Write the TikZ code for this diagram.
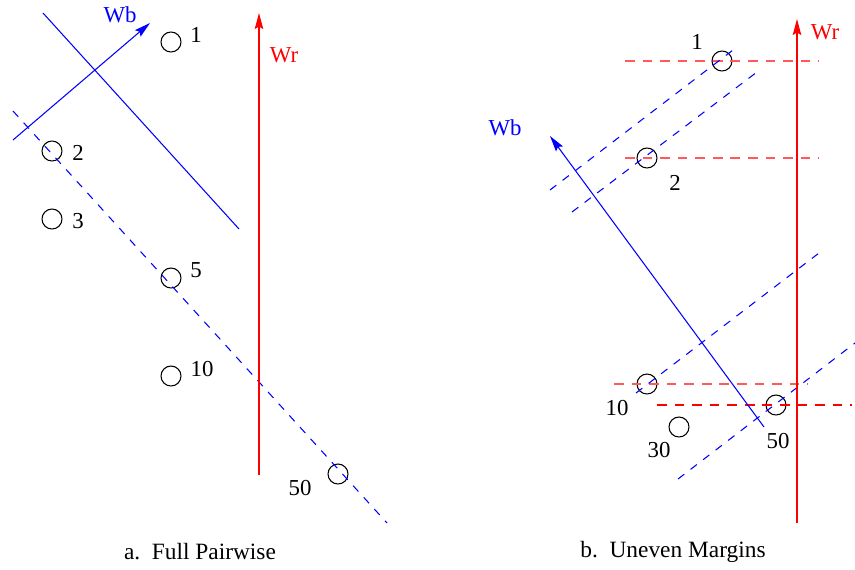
\documentclass[tikz,border=0pt]{standalone}
\usepackage{fontspec}
\setmainfont{Liberation Serif}
\usepackage{tikz}
\usetikzlibrary{arrows.meta}
\tikzstyle{pt}=[circle, draw, minimum size=0.4cm, inner sep=0pt, line width=0.6pt]
\tikzstyle{num}=[font=\fontsize{13}{15}\selectfont, inner sep=0pt]
\tikzstyle{wline}=[blue, line width=0.6pt]
\tikzstyle{bdash}=[blue, line width=0.6pt, dash pattern=on 4.5pt off 4.5pt]
\tikzstyle{rdash}=[red!65, line width=0.8pt, dash pattern=on 5.5pt off 4.5pt]
\tikzstyle{vec}=[line width=0.6pt, -{Stealth[length=0.32cm,width=0.17cm,inset=0.05cm]}]

\begin{document}
\begin{tikzpicture}[x=0.02cm,y=-0.02cm]
\useasboundingbox (0,0) rectangle (855,569);
% a. Full Pairwise
\node[pt] (a1) at (171,42) {};
\node[pt] (a2) at (52,151) {};
\node[pt] (a3) at (52,219) {};
\node[pt] (a5) at (171,278) {};
\node[pt] (a10) at (171,376) {};
\node[pt] (a50) at (338,474) {};
\node[num] (ta1) at (196,35) {1};
\node[num] (ta2) at (78,153) {2};
\node[num] (ta3) at (78,221) {3};
\node[num] (ta5) at (196,270) {5};
\node[num] (ta10) at (202,369) {10};
\node[num] (ta50) at (300,488) {50};
\coordinate (aWb0) at (13,140);
\coordinate (aWb1) at (150,23);
\coordinate (aSep0) at (43,13);
\coordinate (aSep1) at (239,229);
\coordinate (aMar0) at (13,111);
\coordinate (aMar1) at (387,523);
\coordinate (aWr0) at (259,475);
\coordinate (aWr1) at (259,13);
\draw [wline,vec] (aWb0) -- (aWb1);
\draw [wline] (aSep0) -- (aSep1);
\draw [bdash] (aMar0) -- (aMar1);
\draw [red,vec] (aWr0) -- (aWr1);
\node[num,blue] (aWb) at (120,15) {Wb};
\node[num,red] (aWr) at (284,55) {Wr};
\node[num,font=\fontsize{13.3}{15}\selectfont] (capa) at (200,552) {a.\ \ Full Pairwise};
% b. Uneven Margins
\node[pt] (b1) at (722,61) {};
\node[pt] (b2) at (647,158) {};
\node[pt] (b10) at (647,384) {};
\node[pt] (b30) at (679,427) {};
\node[pt] (b50) at (776,405) {};
\node[num] (tb1) at (697,42) {1};
\node[num] (tb2) at (675,183) {2};
\node[num] (tb10) at (617,408) {10};
\node[num] (tb30) at (659,450) {30};
\node[num] (tb50) at (778,441) {50};
\coordinate (bM1a) at (550,190);
\coordinate (bM1b) at (733,50);
\coordinate (bM2a) at (572,212);
\coordinate (bM2b) at (757,72);
\coordinate (bM10a) at (636,393);
\coordinate (bM10b) at (819,253);
\coordinate (bM50a) at (678,479);
\coordinate (bM50b) at (855,343);
\coordinate (bR1a) at (625,61);
\coordinate (bR1b) at (819,61);
\coordinate (bR2a) at (625,158);
\coordinate (bR2b) at (819,158);
\coordinate (bR10a) at (614,384);
\coordinate (bR10b) at (808,384);
\coordinate (bR50a) at (657,405);
\coordinate (bR50b) at (852,405);
\coordinate (bWb0) at (764,427);
\coordinate (bWb1) at (550,136);
\coordinate (bWr0) at (797,523);
\coordinate (bWr1) at (797,19);
\draw [rdash] (bR1a) -- (bR1b);
\draw [rdash] (bR2a) -- (bR2b);
\draw [rdash] (bR10a) -- (bR10b);
\draw [red, line width=0.6pt, dash pattern=on 5.5pt off 4.5pt] (bR50a) -- (bR50b);
\draw [bdash] (bM1a) -- (bM1b);
\draw [bdash] (bM2a) -- (bM2b);
\draw [bdash] (bM10a) -- (bM10b);
\draw [bdash] (bM50a) -- (bM50b);
\draw [wline,vec] (bWb0) -- (bWb1);
\draw [red,vec] (bWr0) -- (bWr1);
\node[num,blue] (bWb) at (505,128) {Wb};
\node[num,red] (bWr) at (825,32) {Wr};
\node[num,font=\fontsize{13.3}{15}\selectfont] (capb) at (673,552) {b.\ \ Uneven Margins};
\end{tikzpicture}
\end{document}
